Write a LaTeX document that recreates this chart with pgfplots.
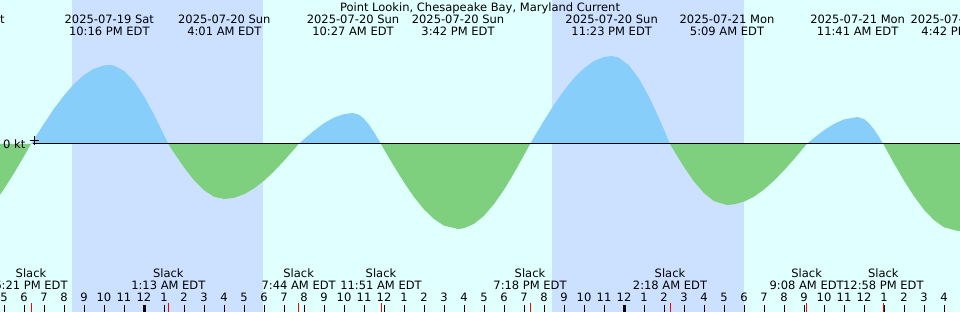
\documentclass[border=0pt]{standalone}
\usepackage{fontspec}
\setmainfont{DejaVu Sans}
\usepackage{pgfplots}
\pgfplotsset{compat=1.18}
\definecolor{day}{RGB}{224,255,255}
\definecolor{night}{RGB}{204,224,255}
\definecolor{flood}{RGB}{135,206,250}
\definecolor{ebb}{RGB}{126,207,126}
\begin{document}
\fontsize{11.5}{13}\selectfont
\begin{tikzpicture}
\useasboundingbox (0,0) rectangle (960pt,312pt);
\begin{axis}[
  at={(0,0)}, anchor=south west,
  scale only axis, width=960pt, height=312pt,
  xmin=-7.2, xmax=40.8, ymin=-1.344, ymax=1.152,
  axis line style={draw=none},
  axis background/.style={fill=day},
  axis on top,
  ytick=\empty,
  xtick={-7,...,40},
  xticklabels={5,6,7,8,9,10,11,12,1,2,3,4,5,6,7,8,9,10,11,12,1,2,3,4,5,6,7,8,9,10,11,12,1,2,3,4,5,6,7,8,9,10,11,12,1,2,3,4},
  xtick pos=left,
  tick align=inside,
  major tick length=7pt,
  minor tick length=7pt,
  tick style={black, line width=1pt},
  minor xtick={0,24},
  minor tick style={line width=3pt},
  tick label style={font=\fontsize{11.5}{13}\selectfont},
  xticklabel style={anchor=base, yshift=10pt},
  extra x ticks={-5.65,1.217,7.733,11.85,19.3,26.3,33.133,36.967},
  extra x tick labels={},
  extra x tick style={major tick length=9pt, tick style={red, line width=1pt}},
]
\fill[night] (axis cs:-3.6,-1.344) rectangle (axis cs:5.95,1.152);
\fill[night] (axis cs:20.4,-1.344) rectangle (axis cs:30,1.152);

\addplot[draw=none, fill=ebb] coordinates {(-7.2,-0.406) (-7.0,-0.360) (-6.5,-0.234) (-6.0,-0.098) (-5.65,0)} \closedcycle;
\addplot[draw=none, fill=flood] coordinates {(-5.65,0) (-5.5,0.038) (-5,0.163) (-4.5,0.282) (-4,0.388) (-3.5,0.480) (-3,0.552) (-2.5,0.602) (-2,0.628) (-1.733,0.632) (-1.5,0.627) (-1,0.585) (-0.5,0.501) (0,0.382) (0.5,0.235) (1,0.073) (1.217,0)} \closedcycle;
\addplot[draw=none, fill=ebb] coordinates {(1.217,0) (1.5,-0.070) (2,-0.187) (2.5,-0.290) (3,-0.370) (3.5,-0.422) (4.017,-0.440) (4.5,-0.431) (5,-0.402) (5.5,-0.356) (6,-0.294) (6.5,-0.219) (7,-0.134) (7.5,-0.043) (7.733,0)} \closedcycle;
\addplot[draw=none, fill=flood] coordinates {(7.733,0) (8,0.038) (8.5,0.106) (9,0.166) (9.5,0.211) (10,0.239) (10.45,0.248) (10.75,0.234) (11,0.202) (11.25,0.154) (11.5,0.095) (11.75,0.028) (11.85,0)} \closedcycle;
\addplot[draw=none, fill=ebb] coordinates {(11.85,0) (12,-0.042) (12.5,-0.178) (13,-0.307) (13.5,-0.424) (14,-0.523) (14.5,-0.600) (15,-0.653) (15.7,-0.680) (16,-0.674) (16.5,-0.639) (17,-0.574) (17.5,-0.481) (18,-0.366) (18.5,-0.233) (19,-0.089) (19.3,0)} \closedcycle;
\addplot[draw=none, fill=flood] coordinates {(19.3,0) (19.5,0.054) (20,0.187) (20.5,0.314) (21,0.428) (21.5,0.527) (22,0.606) (22.5,0.664) (23,0.696) (23.383,0.704) (23.75,0.690) (24.25,0.629) (24.75,0.522) (25.25,0.378) (25.75,0.206) (26,0.114) (26.3,0)} \closedcycle;
\addplot[draw=none, fill=ebb] coordinates {(26.3,0) (26.5,-0.054) (27,-0.184) (27.5,-0.300) (28,-0.393) (28.5,-0.457) (29.15,-0.488) (29.5,-0.483) (30,-0.461) (30.5,-0.421) (31,-0.364) (31.5,-0.293) (32,-0.211) (32.5,-0.121) (33,-0.026) (33.133,0)} \closedcycle;
\addplot[draw=none, fill=flood] coordinates {(33.133,0) (33.5,0.049) (34,0.110) (34.5,0.161) (35,0.197) (35.683,0.216) (36,0.200) (36.25,0.166) (36.5,0.117) (36.75,0.057) (36.967,0)} \closedcycle;
\addplot[draw=none, fill=ebb] coordinates {(36.967,0) (37,-0.010) (37.5,-0.155) (38,-0.293) (38.5,-0.418) (39,-0.526) (39.5,-0.609) (40,-0.666) (40.7,-0.696) (40.8,-0.695)} \closedcycle;

\addplot[black, line width=1pt] coordinates {(-5.55,0) (40.8,0)};
\addplot[only marks, mark=+, mark size=4.5pt, black, line width=1pt] coordinates {(-5.5,0.024)};

\node[anchor=base west, inner sep=0pt] at (axis cs:-7.05,-0.04) {0 kt};

\node[anchor=base, inner sep=0pt] at (axis cs:16.8,1.06) {Point Lookin, Chesapeake Bay, Maryland Current};

\node[anchor=base, inner sep=0pt] at (axis cs:-9.2,0.96) {2025-07-19 Sat};
\node[anchor=base, inner sep=0pt] at (axis cs:-9.2,0.864) {4:47 PM EDT};
\node[anchor=base, inner sep=0pt] at (axis cs:-1.733,0.96) {2025-07-19 Sat};
\node[anchor=base, inner sep=0pt] at (axis cs:-1.733,0.864) {10:16 PM EDT};
\node[anchor=base, inner sep=0pt] at (axis cs:4.017,0.96) {2025-07-20 Sun};
\node[anchor=base, inner sep=0pt] at (axis cs:4.017,0.864) {4:01 AM EDT};
\node[anchor=base, inner sep=0pt] at (axis cs:10.45,0.96) {2025-07-20 Sun};
\node[anchor=base, inner sep=0pt] at (axis cs:10.45,0.864) {10:27 AM EDT};
\node[anchor=base, inner sep=0pt] at (axis cs:15.7,0.96) {2025-07-20 Sun};
\node[anchor=base, inner sep=0pt] at (axis cs:15.7,0.864) {3:42 PM EDT};
\node[anchor=base, inner sep=0pt] at (axis cs:23.383,0.96) {2025-07-20 Sun};
\node[anchor=base, inner sep=0pt] at (axis cs:23.383,0.864) {11:23 PM EDT};
\node[anchor=base, inner sep=0pt] at (axis cs:29.15,0.96) {2025-07-21 Mon};
\node[anchor=base, inner sep=0pt] at (axis cs:29.15,0.864) {5:09 AM EDT};
\node[anchor=base, inner sep=0pt] at (axis cs:35.683,0.96) {2025-07-21 Mon};
\node[anchor=base, inner sep=0pt] at (axis cs:35.683,0.864) {11:41 AM EDT};
\node[anchor=base, inner sep=0pt] at (axis cs:40.7,0.96) {2025-07-21 Mon};
\node[anchor=base, inner sep=0pt] at (axis cs:40.7,0.864) {4:42 PM EDT};

\node[anchor=base, inner sep=0pt] at (axis cs:-5.65,-1.072) {Slack};
\node[anchor=base, inner sep=0pt] at (axis cs:-5.65,-1.164) {6:21 PM EDT};
\node[anchor=base, inner sep=0pt] at (axis cs:1.217,-1.072) {Slack};
\node[anchor=base, inner sep=0pt] at (axis cs:1.217,-1.164) {1:13 AM EDT};
\node[anchor=base, inner sep=0pt] at (axis cs:7.733,-1.072) {Slack};
\node[anchor=base, inner sep=0pt] at (axis cs:7.733,-1.164) {7:44 AM EDT};
\node[anchor=base, inner sep=0pt] at (axis cs:11.85,-1.072) {Slack};
\node[anchor=base, inner sep=0pt] at (axis cs:11.85,-1.164) {11:51 AM EDT};
\node[anchor=base, inner sep=0pt] at (axis cs:19.3,-1.072) {Slack};
\node[anchor=base, inner sep=0pt] at (axis cs:19.3,-1.164) {7:18 PM EDT};
\node[anchor=base, inner sep=0pt] at (axis cs:26.3,-1.072) {Slack};
\node[anchor=base, inner sep=0pt] at (axis cs:26.3,-1.164) {2:18 AM EDT};
\node[anchor=base, inner sep=0pt] at (axis cs:33.133,-1.072) {Slack};
\node[anchor=base, inner sep=0pt] at (axis cs:33.133,-1.164) {9:08 AM EDT};
\node[anchor=base, inner sep=0pt] at (axis cs:36.967,-1.072) {Slack};
\node[anchor=base, inner sep=0pt] at (axis cs:36.967,-1.164) {12:58 PM EDT};
\end{axis}
\end{tikzpicture}
\end{document}
